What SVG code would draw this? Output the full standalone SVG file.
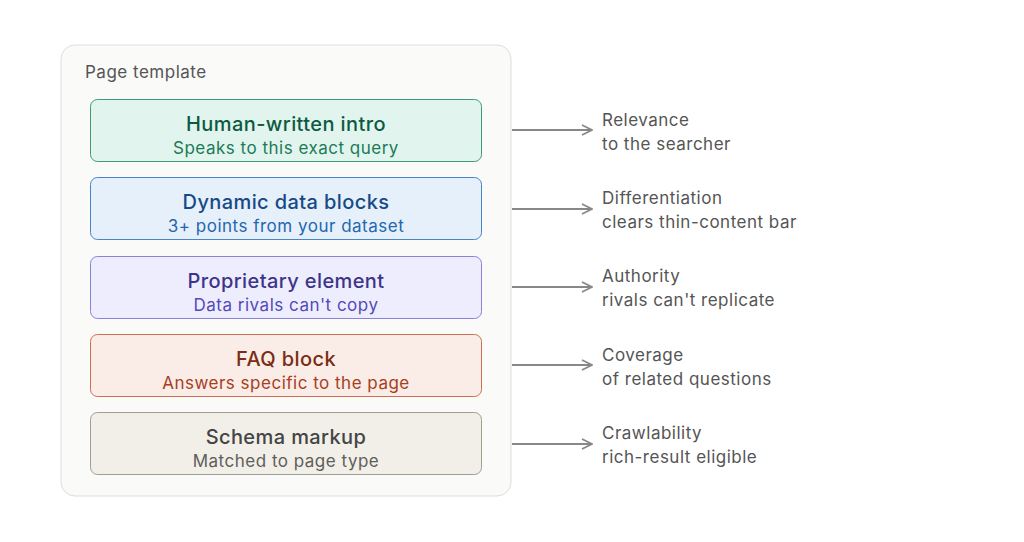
<svg xmlns="http://www.w3.org/2000/svg" width="1024" height="542" viewBox="0 0 1024 542">
<defs>
<style>
text{font-family:"Inter","Liberation Sans",sans-serif}
.t{font-size:20px;font-weight:500;text-anchor:middle;letter-spacing:0.4px}
.s{font-size:17px;text-anchor:middle;letter-spacing:0.5px}
.r{font-size:17px;fill:#555;letter-spacing:0.5px}
.c{stroke:#888;stroke-width:2;fill:none}
</style>
<marker id="a" viewBox="0 0 12 12" refX="11" refY="6" markerWidth="12" markerHeight="12" markerUnits="userSpaceOnUse" orient="auto"><path d="M1 1L11 6L1 11" fill="none" stroke="#888" stroke-width="1.8"/></marker>
</defs>
<rect width="1024" height="542" fill="#fff"/>
<g id="template"><rect x="61" y="45" width="450" height="451" rx="14" fill="#fafaf8" stroke="#ddd"/>
<text x="85" y="78" font-size="17" fill="#555" letter-spacing="0.5">Page template</text></g>
<g id="n1"><rect x="90.5" y="99.5" width="391" height="62" rx="7" fill="#e1f5ee" stroke="#3f9a7a"/><text class="t" x="286" y="131" fill="#0d5a43">Human-written intro</text><text class="s" x="286" y="154" fill="#1c7a58">Speaks to this exact query</text></g>
<g id="n2"><rect x="90.5" y="177.5" width="391" height="62" rx="7" fill="#e6f0fb" stroke="#4a84c8"/><text class="t" x="286" y="209" fill="#154a86">Dynamic data blocks</text><text class="s" x="286" y="232" fill="#2466b0">3+ points from your dataset</text></g>
<g id="n3"><rect x="90.5" y="256.5" width="391" height="62" rx="7" fill="#eeedfe" stroke="#8a82d8"/><text class="t" x="286" y="288" fill="#3c3489">Proprietary element</text><text class="s" x="286" y="311" fill="#534ab7">Data rivals can't copy</text></g>
<g id="n4"><rect x="90.5" y="334.5" width="391" height="62" rx="7" fill="#faece7" stroke="#cf6f52"/><text class="t" x="286" y="366" fill="#7a2c14">FAQ block</text><text class="s" x="286" y="389" fill="#a83e1e">Answers specific to the page</text></g>
<g id="n5"><rect x="90.5" y="412.5" width="391" height="62" rx="7" fill="#f1efe8" stroke="#a09d94"/><text class="t" x="286" y="444" fill="#444">Schema markup</text><text class="s" x="286" y="467" fill="#5f5e5a">Matched to page type</text></g>
<g id="connectors">
<line class="c" x1="512" y1="130" x2="592" y2="130" marker-end="url(#a)"/>
<line class="c" x1="512" y1="209" x2="592" y2="209" marker-end="url(#a)"/>
<line class="c" x1="512" y1="287" x2="592" y2="287" marker-end="url(#a)"/>
<line class="c" x1="512" y1="365" x2="592" y2="365" marker-end="url(#a)"/>
<line class="c" x1="512" y1="444" x2="592" y2="444" marker-end="url(#a)"/>
</g>
<g id="labels">
<text class="r" x="602" y="126">Relevance</text><text class="r" x="602" y="150">to the searcher</text>
<text class="r" x="602" y="204">Differentiation</text><text class="r" x="602" y="228">clears thin-content bar</text>
<text class="r" x="602" y="282">Authority</text><text class="r" x="602" y="306">rivals can't replicate</text>
<text class="r" x="602" y="361">Coverage</text><text class="r" x="602" y="385">of related questions</text>
<text class="r" x="602" y="439">Crawlability</text><text class="r" x="602" y="463">rich-result eligible</text>
</g>
</svg>
